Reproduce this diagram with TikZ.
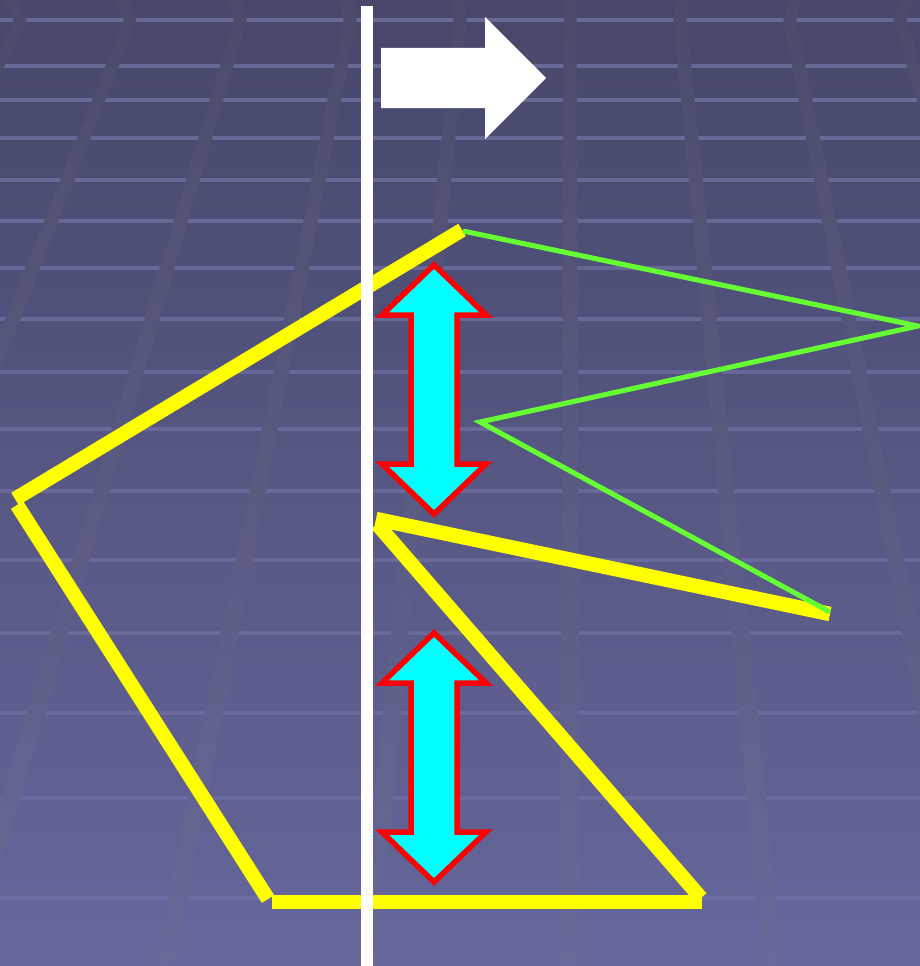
\documentclass[tikz,border=0pt]{standalone}
\begin{document}
\begin{tikzpicture}[x=1pt,y=-1pt,line join=miter]
\definecolor{bgtop}{HTML}{46476A}
\definecolor{bgbot}{HTML}{66679B}
\definecolor{ylw}{HTML}{FFFF00}
\definecolor{grn}{HTML}{66FF33}
\definecolor{cyn}{HTML}{00FFFF}
\definecolor{rd}{HTML}{FF0000}
\definecolor{tile}{HTML}{8A8CC2}
\tikzset{
  seg/.style={draw=ylw,line width=14.5pt,line cap=butt},
  zig/.style={draw=grn,line width=5pt,line cap=butt},
  dblarrow/.style={fill=cyn,draw=rd,line width=5.5pt},
  tileline/.style={draw=tile,line width=3.5pt},
  bandshade/.style={top color=bgtop,bottom color=bgbot,draw=none},
  bandtint/.style={fill=gray,opacity=0.1,draw=none}
}
\useasboundingbox (0,0) rectangle (920,966);
\clip (0,0) rectangle (920,966);
% background
\shade[top color=bgtop,bottom color=bgbot] (0,0) rectangle (920,966);
\foreach \r in {20,66,100,138,180,221,268,319,372,429,491,560,633,713,798,898}{
  \pgfmathsetmacro\op{0.5-0.3*\r/966}
  \draw[tileline,opacity=\op] (0,\r) -- (920,\r);
}
\foreach \k in {-5,...,3}{
  \pgfmathsetmacro\xa{570+108*\k*(1+20/1100)}
  \pgfmathsetmacro\xb{570+108*\k*(1+966/1100)}
  \pgfmathsetmacro\xt{570+108*\k*(1+20/1100)*1.02}
  \shade[bandshade] (\xa-6.5,20) -- (\xa+6.5,20) -- (\xb+10,966) -- (\xb-10,966) -- cycle;
  \fill[bandtint] (\xa-6.5,20) -- (\xa+6.5,20) -- (\xb+10,966) -- (\xb-10,966) -- cycle;
  \fill[bgtop] (\xt-6.5,0) -- (\xt+6.5,0) -- (\xa+6.5,20) -- (\xa-6.5,20) -- cycle;
  \fill[bandtint] (\xt-6.5,0) -- (\xt+6.5,0) -- (\xa+6.5,20) -- (\xa-6.5,20) -- cycle;
}
% points
\coordinate (a1) at (462,230);
\coordinate (a2) at (15,499);
\coordinate (b1) at (17,505);
\coordinate (b2) at (268,899);
\coordinate (c1) at (272,902);
\coordinate (c2) at (702,902);
\coordinate (d1) at (701,898);
\coordinate (d2) at (377,524);
\coordinate (e1) at (376,519);
\coordinate (e2) at (830,614);
\coordinate (g1) at (463,231);
\coordinate (g2) at (918,326);
\coordinate (g3) at (480,422);
\coordinate (g4) at (830,612);
% yellow segments
\draw[seg] (a1) -- (a2);
\draw[seg] (b1) -- (b2);
\draw[seg] (c1) -- (c2);
\draw[seg] (d1) -- (d2);
\draw[seg] (e1) -- (e2);
% green zigzag
\draw[zig] (g1) -- (g2) -- (g3) -- (g4);
% cyan double arrows
\foreach \cy in {389.5,757.5}{
  \filldraw[dblarrow] (434,\cy-124.5) -- (486,\cy-74.5) -- (457,\cy-74.5) -- (457,\cy+74.5)
    -- (486,\cy+74.5) -- (434,\cy+124.5) -- (382,\cy+74.5) -- (411,\cy+74.5)
    -- (411,\cy-74.5) -- (382,\cy-74.5) -- cycle;
}
% white arrow
\fill[white] (381,48) -- (485,48) -- (485,17) -- (546,78) -- (485,139) -- (485,108) -- (381,108) -- cycle;
% white vertical line
\coordinate (w1) at (367,6);
\coordinate (w2) at (367,966);
\draw[white,line width=11.5pt] (w1) -- (w2);
\end{tikzpicture}
\end{document}
